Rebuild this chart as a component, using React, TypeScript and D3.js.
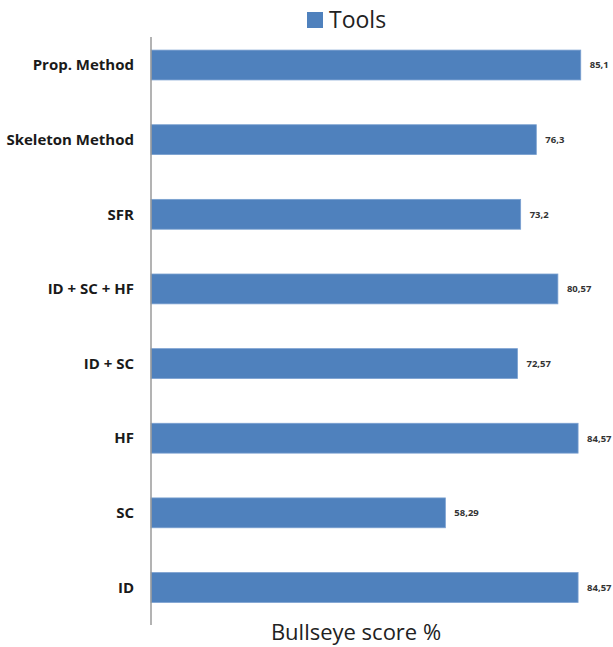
import React from "react";
import * as d3 from "d3";

// Bullseye scores per method, top to bottom
const methods = [
  "Prop. Method",
  "Skeleton Method",
  "SFR",
  "ID + SC + HF",
  "ID + SC",
  "HF",
  "SC",
  "ID",
];
const scores = [85.1, 76.3, 73.2, 80.57, 72.57, 84.57, 58.29, 84.57];
const valueLabels = ["85,1", "76,3", "73,2", "80,57", "72,57", "84,57", "58,29", "84,57"];
const seriesName = "Tools";
const axisTitle = "Bullseye score %";

const W = 613;
const H = 647;
const BAR = "#4F81BD";

export default function App() {
  const x = d3.scaleLinear().domain([0, 100]).range([151, 656]);
  const y = d3
    .scaleBand<string>()
    .domain(methods)
    .range([27.7, 624.8])
    .paddingInner(0.6)
    .paddingOuter(0.3);

  const font = "'Open Sans', 'Noto Sans', sans-serif";

  return (
    <svg
      width={W}
      height={H}
      style={{ position: "fixed", left: 0, top: 0, background: "#fff" }}
      fontFamily={font}
    >
      {/* legend */}
      <rect x={307} y={12} width={16} height={16} fill={BAR} />
      <text x={329} y={28} fontSize={23} fill="#222">
        {seriesName}
      </text>

      {/* bars */}
      {methods.map((m, i) => {
        const y0 = y(m) as number;
        const bw = y.bandwidth();
        return (
          <g key={m}>
            <rect
              x={x(0)}
              y={y0}
              width={x(scores[i]) - x(0)}
              height={bw}
              fill={BAR}
              stroke="#7aa0d0"
              strokeWidth={0.8}
            />
            <text
              x={x(scores[i]) + 9}
              y={y0 + bw / 2}
              dy="0.35em"
              fontSize={9.5}
              fontWeight={700}
              fill="#333"
            >
              {valueLabels[i]}
            </text>
            <text
              x={134}
              y={y0 + bw / 2}
              dy="0.35em"
              textAnchor="end"
              fontSize={15}
              fontWeight={700}
              fill="#1a1a1a"
            >
              {m}
            </text>
          </g>
        );
      })}

      {/* category axis line */}
      <line x1={x(0)} x2={x(0)} y1={37} y2={625} stroke="#9a9a9a" strokeWidth={1.5} />

      {/* value axis title */}
      <text x={356} y={640} textAnchor="middle" fontSize={22} fill="#222">
        {axisTitle}
      </text>
    </svg>
  );
}
